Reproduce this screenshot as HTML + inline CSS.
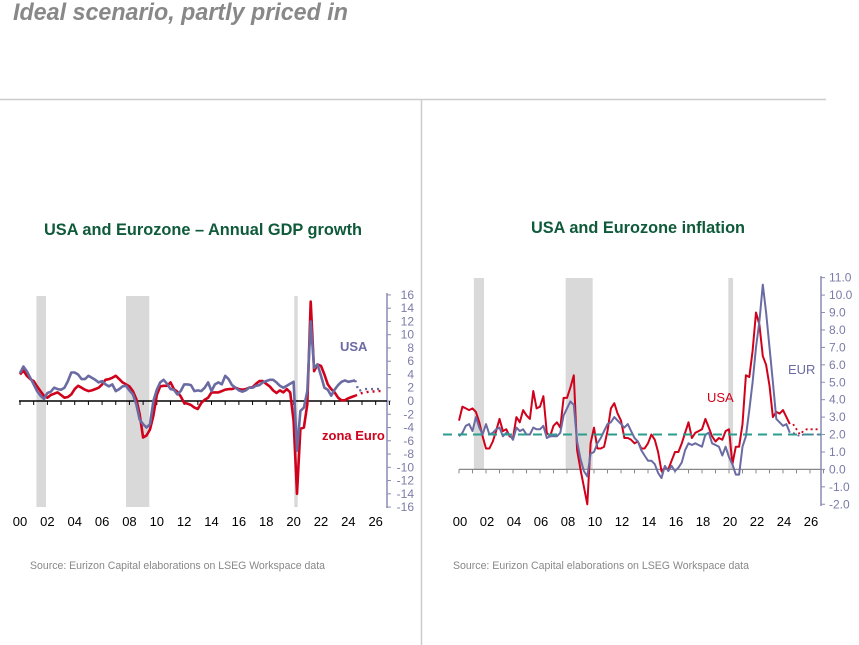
<!DOCTYPE html>
<html><head><meta charset="utf-8"><style>
html,body{margin:0;padding:0;background:#fff;}
svg{display:block;font-family:"Liberation Sans",Arial,sans-serif;}
</style></head><body>
<svg id="page" width="859" height="645" viewBox="0 0 859 645">
<text x="13" y="20" font-size="24" font-weight="bold" font-style="italic" fill="#888" textLength="335" lengthAdjust="spacingAndGlyphs">Ideal scenario, partly priced in</text>
<line x1="0" y1="99.5" x2="826" y2="99.5" stroke="#ccc" stroke-width="1.5"/>
<line x1="421.5" y1="100" x2="421.5" y2="645" stroke="#ccc" stroke-width="1.5"/>
<text x="44" y="235" font-size="17" font-weight="bold" fill="#0e5a3a" textLength="318" lengthAdjust="spacingAndGlyphs">USA and Eurozone – Annual GDP growth</text>
<text x="531" y="233" font-size="17" font-weight="bold" fill="#0e5a3a" textLength="214" lengthAdjust="spacingAndGlyphs">USA and Eurozone inflation</text>
<text x="30" y="569" font-size="11" fill="#888" textLength="295" lengthAdjust="spacingAndGlyphs">Source: Eurizon Capital elaborations on LSEG Workspace data</text>
<text x="453" y="569" font-size="11" fill="#888" textLength="296" lengthAdjust="spacingAndGlyphs">Source: Eurizon Capital elaborations on LSEG Workspace data</text>
<g id="gdp"></g>
<g id="inf"></g>
</svg>
<script>
// ---- GDP chart data (quarterly, start 2000.0) ----
const gdpUS = [4.2,5.2,4.5,3.5, 2.5,1.5,0.8,0.3, 1.2,1.4,2.0,1.8, 1.7,2.0,3.0,4.3, 4.3,4.0,3.3,3.3, 3.8,3.5,3.2,2.8, 3.0,2.5,2.2,2.5, 1.5,1.8,2.2,2.3, 1.6,1.0,-0.5,-2.8, -3.5,-4.0,-3.5,0.0, 1.7,2.8,3.2,2.6, 1.8,1.7,1.0,1.5, 2.5,2.5,2.4,1.5, 1.6,1.5,2.0,2.8, 1.5,2.5,2.8,2.5, 3.8,3.3,2.4,2.0, 1.6,1.4,1.6,2.0, 2.0,2.3,2.4,2.8, 3.0,3.2,3.2,2.8, 2.3,2.0,2.3,2.6, 2.9,-7.5,-1.5,-1.0, 1.5,12.0,5.0,5.5, 3.8,2.0,1.7,0.8, 1.7,2.4,2.9,3.1, 2.9,3.0,3.1];
const gdpEZ = [4.0,4.6,3.8,3.3, 3.0,2.2,1.5,0.8, 0.5,0.9,1.1,1.3, 0.9,0.5,0.6,1.0, 1.8,2.3,2.0,1.7, 1.5,1.6,1.8,2.0, 2.5,3.2,3.3,3.5, 3.8,3.3,2.8,2.5, 2.2,1.5,0.3,-2.0, -5.5,-5.2,-4.3,-2.2, 0.9,2.2,2.3,2.3, 2.8,1.8,1.4,0.7, -0.3,-0.4,-0.6,-1.0, -1.2,-0.3,0.2,0.5, 1.3,1.3,1.3,1.5, 1.7,1.8,1.8,2.0, 1.8,1.7,1.8,2.0, 2.1,2.6,3.0,3.0, 2.6,2.2,1.6,1.2, 1.6,1.3,1.8,1.3, -3.0,-14.0,-4.2,-4.0, -0.5,15.0,4.5,5.5, 5.3,4.0,2.5,1.8, 1.3,0.5,0.1,0.1, 0.4,0.6,0.8];
const gdpUSFc = [3.1,1.5,1.7,1.8,1.8,1.8,1.8,1.8,1.8];
const gdpEZFc = [0.8,1.0,1.2,1.3,1.4,1.4,1.5,1.5,1.5];
const gdpTicks = [16,14,12,10,8,6,4,2,0,-2,-4,-6,-8,-10,-12,-14,-16];
const yearLabels = ["00","02","04","06","08","10","12","14","16","18","20","22","24","26"];
const recessions = [[2001.2,2001.9],[2007.75,2009.45],[2020.05,2020.3]];
// ---- Inflation chart data (quarterly, start 2000.0) ----
const infUS = [2.8,3.6,3.5,3.4, 3.5,3.3,2.7,1.9, 1.2,1.2,1.6,2.2, 2.9,2.2,2.3,1.9, 1.8,3.0,2.7,3.4, 3.1,2.9,4.5,3.5, 3.6,4.2,2.1,1.9, 2.5,2.7,2.4,4.1, 4.1,4.7,5.4,1.1, 0.0,-1.0,-2.0,1.5, 2.4,1.2,1.2,1.3, 2.2,3.5,3.8,3.2, 2.8,1.8,1.8,1.7, 1.5,1.6,1.2,1.2, 1.5,2.0,1.7,1.0, -0.1,0.1,0.0,0.5, 1.0,1.0,1.5,2.1, 2.7,1.8,2.1,2.2, 2.3,2.9,2.4,1.9, 1.6,1.8,1.7,2.2, 2.3,0.3,1.3,1.3, 2.6,5.4,5.3,6.8, 9.0,8.3,6.5,6.0, 4.8,3.0,3.3,3.2, 3.4,3.0,2.6];
const infEZ = [1.9,2.1,2.5,2.6, 2.2,3.0,2.4,2.0, 2.6,2.0,2.1,2.3, 2.4,1.9,2.1,2.0, 1.7,2.4,2.2,2.3, 2.0,2.0,2.4,2.3, 2.3,2.5,1.8,1.9, 1.9,1.9,2.1,3.1, 3.5,3.9,3.7,1.6, 0.6,-0.1,-0.4,0.9, 1.0,1.5,1.8,2.2, 2.6,2.7,3.0,2.8, 2.6,2.4,2.6,2.2, 1.8,1.6,1.1,0.8, 0.5,0.5,0.3,-0.2, -0.5,0.2,-0.1,0.2, -0.1,0.1,0.4,1.1, 1.5,1.4,1.5,1.4, 1.3,2.0,2.1,1.5, 1.4,1.3,0.8,1.3, 0.7,0.3,-0.3,-0.3, 1.3,1.9,3.4,5.0, 7.0,8.5,10.6,9.0, 7.0,5.0,2.9,2.7, 2.5,2.6,2.1];
const infUSFc = [2.6,2.3,2.0,2.2,2.3,2.3,2.3,2.3,2.3];
const infEZFc = [2.1,2.0,1.9,2.0,2.0,2.0,2.0,2.0,2.0];
const infTicks = [11,10,9,8,7,6,5,4,3,2,1,0,-1,-2];
const infTarget = 2.0;

const NS="http://www.w3.org/2000/svg";
function mk(parent,tag,attrs,txt){const e=document.createElementNS(NS,tag);for(const k in attrs)e.setAttribute(k,attrs[k]);if(txt!==undefined)e.textContent=txt;parent.appendChild(e);return e;}
function pathFrom(arr,start,sx,sy){return arr.map((v,i)=>(i?'L':'M')+sx(start+i/4).toFixed(1)+','+sy(v).toFixed(1)).join('');}

// ---------- GDP ----------
(function(){
 const g=document.getElementById('gdp');
 const sx=y=>20+(y-2000)*13.68, sy=v=>401-v*6.63;
 recessions.forEach((r,i)=>{const e=mk(g,'rect',{x:sx(r[0]),y:296,width:sx(r[1])-sx(r[0]),height:211,fill:'#d9d9d9'});
  });
 const ax=mk(g,'line',{x1:387,y1:293,x2:387,y2:508,stroke:'#8a8ab4','stroke-width':1.5});
 
 gdpTicks.forEach(t=>{mk(g,'line',{x1:387,y1:sy(t),x2:391,y2:sy(t),stroke:'#8a8ab4'});
  const e=mk(g,'text',{x:414,y:sy(t)+4,'font-size':12,fill:'#7b7ba8','text-anchor':'end'},String(t));
  });
 const za=mk(g,'line',{x1:19,y1:sy(0),x2:387,y2:sy(0),stroke:'#000','stroke-width':1.5});
 
 for(let y=2000;y<=2027;y++) mk(g,'line',{x1:sx(y),y1:sy(0),x2:sx(y),y2:sy(0)+4,stroke:'#000'});
 yearLabels.forEach((l,i)=>{const e=mk(g,'text',{x:sx(2000+i*2),y:526,'font-size':13,fill:'#000','text-anchor':'middle'},l);
  });
 let e=mk(g,'path',{d:pathFrom(gdpEZ,2000,sx,sy),fill:'none',stroke:'#d0021b','stroke-width':2.6,'stroke-linejoin':'round'});
 
 e=mk(g,'path',{d:pathFrom(gdpUS,2000,sx,sy),fill:'none',stroke:'#6b6ba3','stroke-width':2.6,'stroke-linejoin':'round'});
 
 e=mk(g,'path',{d:pathFrom(gdpEZFc,2024.5,sx,sy),fill:'none',stroke:'#d0021b','stroke-width':2.4,'stroke-dasharray':'2 4'});
 
 e=mk(g,'path',{d:pathFrom(gdpUSFc,2024.5,sx,sy),fill:'none',stroke:'#6b6ba3','stroke-width':2.4,'stroke-dasharray':'2 4'});
 
 e=mk(g,'text',{x:340,y:351,'font-size':13,'font-weight':'bold',fill:'#6b6ba3'},'USA');
 
 e=mk(g,'text',{x:322,y:440,'font-size':13,'font-weight':'bold',fill:'#d0021b'},'zona Euro');
 
})();

// ---------- Inflation ----------
(function(){
 const g=document.getElementById('inf');
 const sx=y=>459+(y-2000)*13.5, sy=v=>469.4-v*17.43;
 const rec=[[2001.1,2001.85],[2007.9,2009.9],[2019.95,2020.3]];
 rec.forEach(r=>{const e=mk(g,'rect',{x:sx(r[0]),y:278,width:sx(r[1])-sx(r[0]),height:sy(0)-278,fill:'#d9d9d9'});
  });
 const ax=mk(g,'line',{x1:821,y1:276,x2:821,y2:506,stroke:'#8a8ab4','stroke-width':1.5});
 
 infTicks.forEach(t=>{mk(g,'line',{x1:821,y1:sy(t),x2:825,y2:sy(t),stroke:'#8a8ab4'});
  const e=mk(g,'text',{x:829,y:sy(t)+4,'font-size':12,fill:'#7b7ba8'},t.toFixed(1));
  });
 const za=mk(g,'line',{x1:459,y1:sy(0),x2:821,y2:sy(0),stroke:'#888','stroke-width':1.2});
 
 for(let y=2000;y<=2027;y++) mk(g,'line',{x1:sx(y),y1:sy(0),x2:sx(y),y2:sy(0)+4,stroke:'#888'});
 yearLabels.forEach((l,i)=>{const e=mk(g,'text',{x:sx(2000+i*2)+1,y:526,'font-size':13,fill:'#000','text-anchor':'middle'},l);
  });
 let e=mk(g,'path',{d:pathFrom(infUS,2000,sx,sy),fill:'none',stroke:'#d0021b','stroke-width':2,'stroke-linejoin':'round'});
 
 e=mk(g,'path',{d:pathFrom(infEZ,2000,sx,sy),fill:'none',stroke:'#6b6ba3','stroke-width':2,'stroke-linejoin':'round'});
 
 e=mk(g,'line',{x1:443,y1:sy(infTarget),x2:821,y2:sy(infTarget),stroke:'#2a9d8f','stroke-width':2,'stroke-dasharray':'9 6'});
 
 e=mk(g,'path',{d:pathFrom(infUSFc,2024.75,sx,sy),fill:'none',stroke:'#d0021b','stroke-width':1.8,'stroke-dasharray':'2 3'});
 
 e=mk(g,'path',{d:pathFrom(infEZFc,2024.75,sx,sy),fill:'none',stroke:'#6b6ba3','stroke-width':1.8,'stroke-dasharray':'2 3'});
 
 e=mk(g,'text',{x:707,y:402,'font-size':13,fill:'#d0021b'},'USA');
 
 e=mk(g,'text',{x:788,y:374,'font-size':13,fill:'#6b6ba3'},'EUR');
 
})();
</script>
</body></html>
